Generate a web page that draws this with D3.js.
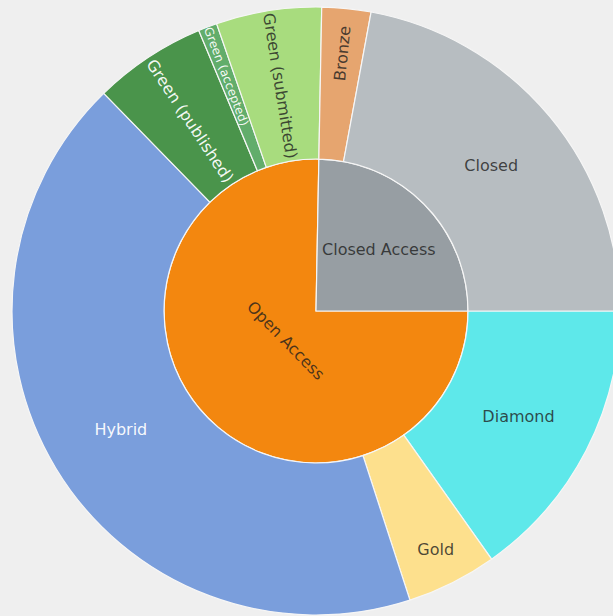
<!DOCTYPE html>
<html>
<head>
<meta charset="utf-8">
<script src="https://cdn.jsdelivr.net/npm/d3@7/dist/d3.min.js"></script>
<style>
  html, body { margin: 0; padding: 0; background: #efefef; }
  svg { display: block; }
  text { font-family: "DejaVu Sans", Verdana, sans-serif; }
</style>
</head>
<body>
<script>
// ---- data ----
const parentNames = ["Open Access", "Closed Access"];
const openCategories = ["Diamond", "Gold", "Hybrid", "Green (published)", "Green (accepted)", "Green (submitted)"];
const openValues = [152, 48, 427, 60, 10, 56];
const closedCategories = ["Bronze", "Closed"];
const closedValues = [26, 221];

// ---- styles ----
const colors = {
  "Open Access": "#f3870f",
  "Closed Access": "#979ea3",
  "Diamond": "#5ee8ea",
  "Gold": "#fde08d",
  "Hybrid": "#7a9edc",
  "Green (published)": "#4a944b",
  "Green (accepted)": "#62ad6b",
  "Green (submitted)": "#a8dc7e",
  "Bronze": "#e6a56f",
  "Closed": "#b7bdc1"
};
const lightText = new Set(["Hybrid", "Green (published)", "Green (accepted)"]);
const radialText = new Set(["Green (published)", "Green (accepted)", "Green (submitted)", "Bronze"]);
const fontSizes = { "Green (accepted)": 12 };
const labelRadius = { "Gold": 267, "Bronze": 259, "Green (accepted)": 251 };

const W = 613, H = 616;
const cx = 316, cy = 311;
const rInner = 152, rOuter = 304;

const svg = d3.select("body").append("svg")
  .attr("width", W).attr("height", H);
svg.append("rect").attr("width", W).attr("height", H).attr("fill", "#efefef");

const rootData = {
  name: "root",
  children: [
    { name: parentNames[0], children: openCategories.map((c, i) => ({ name: c, value: openValues[i] })) },
    { name: parentNames[1], children: closedCategories.map((c, i) => ({ name: c, value: closedValues[i] })) }
  ]
};

const root = d3.hierarchy(rootData).sum(d => d.value || 0);
d3.partition().size([2 * Math.PI, 3])(root);

const startOffset = Math.PI / 2; // first slice begins at 3 o'clock, clockwise
const radius = d3.scaleLinear().domain([1, 2, 3]).range([0, rInner, rOuter]);

const arc = d3.arc()
  .startAngle(d => d.x0 + startOffset)
  .endAngle(d => d.x1 + startOffset)
  .innerRadius(d => radius(d.y0))
  .outerRadius(d => radius(d.y1));

const g = svg.append("g").attr("transform", `translate(${cx},${cy})`);
const nodes = root.descendants().filter(d => d.depth > 0);

g.selectAll("path").data(nodes).join("path")
  .attr("d", arc)
  .attr("fill", d => colors[d.data.name])
  .attr("stroke", "#f6f6f6")
  .attr("stroke-width", 1.2);

const deg = r => r * 180 / Math.PI;

g.selectAll("text").data(nodes).join("text")
  .attr("text-anchor", "middle")
  .attr("dy", "0.36em")
  .attr("font-size", d => (fontSizes[d.data.name] || 16) + "px")
  .attr("fill", d => lightText.has(d.data.name) ? "#ffffff" : "#1e1e1e")
  .attr("fill-opacity", d => lightText.has(d.data.name) ? 0.95 : 0.8)
  .attr("transform", d => {
    const a = (d.x0 + d.x1) / 2 + startOffset; // clockwise from 12 o'clock
    const ad = deg(a) % 360;
    let r, rot = 0;
    if (d.depth === 1) {
      if (d.data.name === "Open Access") { r = 42; rot = ad - 180; }
      else { r = 88; rot = 0; }
    } else {
      r = labelRadius[d.data.name] || (rInner + rOuter) / 2;
      if (radialText.has(d.data.name)) {
        rot = ad - 90;
        if (rot > 90) rot -= 180;
        if (rot < -90) rot += 180;
      }
    }
    const x = r * Math.sin(a), y = -r * Math.cos(a);
    return `translate(${x},${y}) rotate(${rot})`;
  })
  .text(d => d.data.name);
</script>
</body>
</html>
